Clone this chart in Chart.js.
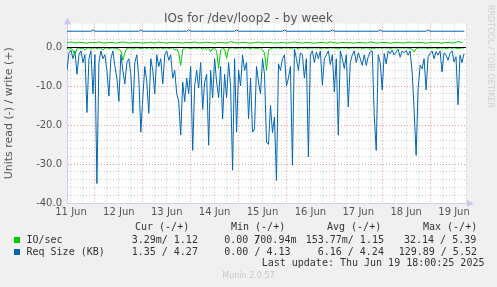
<!DOCTYPE html>
<html>
<head>
<meta charset="utf-8">
<script src="https://cdn.jsdelivr.net/npm/chart.js@4/dist/chart.umd.min.js"></script>
<style>
  html, body { margin: 0; padding: 0; background: #f0f0f0; }
  #wrap { position: relative; width: 497px; height: 287px; overflow: hidden; background: #f0f0f0; }
  canvas { position: absolute; left: 0; top: 0; }
  .t { position: absolute; white-space: pre; font: 10px 'DejaVu Sans Mono', monospace; color: #333; line-height: 12px; }
  .sq { position: absolute; width: 6px; height: 6px; }
  #title { position: absolute; left: 0; width: 497px; top: 11px; text-align: center; font: 12px 'DejaVu Sans', sans-serif; color: #555; line-height: 15px; }
  #rrd { position: absolute; left: 485px; top: 5px; font: 8px 'DejaVu Sans', sans-serif; color: #cfcfcf; writing-mode: vertical-rl; white-space: nowrap; line-height: 10px; }
  #munin { position: absolute; left: 0; width: 497px; top: 271px; text-align: center; font: 8px 'DejaVu Sans', sans-serif; color: #c8c8c8; line-height: 10px; }
</style>
</head>
<body>
<div id="wrap">
  <canvas id="c" width="497" height="287"></canvas>
  <div id="title">IOs for /dev/loop2 - by week</div>
  <div id="rrd">RRDTOOL / TOBI OETIKER</div>
  <div class="t" style="left:135px;top:221px">Cur (-/+)</div>
  <div class="t" style="left:231px;top:221px">Min (-/+)</div>
  <div class="t" style="left:327px;top:221px">Avg (-/+)</div>
  <div class="t" style="left:423px;top:221px">Max (-/+)</div>
  <div class="sq" style="left:14px;top:237px;background:#00cc00"></div>
  <div class="t" style="left:26.5px;top:234px">IO/sec</div>
  <div class="t" style="left:131.7px;top:234px">3.29m/ 1.12</div>
  <div class="t" style="left:224.3px;top:234px">0.00 /</div>
  <div class="t" style="left:254.3px;top:234px">700.94m</div>
  <div class="t" style="left:305.7px;top:234px">153.77m/ 1.15</div>
  <div class="t" style="left:404px;top:234px">32.14 / 5.39</div>
  <div class="sq" style="left:14px;top:249px;background:#0066b3"></div>
  <div class="t" style="left:26.5px;top:246px">Req Size (KB)</div>
  <div class="t" style="left:131.7px;top:246px">1.35 / 4.27</div>
  <div class="t" style="left:224.3px;top:246px">0.00 / 4.13</div>
  <div class="t" style="left:317.7px;top:246px">6.16 / 4.24</div>
  <div class="t" style="left:398.7px;top:246px">129.89 / 5.52</div>
  <div class="t" style="left:261.7px;top:257px">Last update: Thu Jun 19 18:00:25 2025</div>
  <div id="munin">Munin 2.0.57</div>
</div>
<script>
// ---- data (x = hours since Jun 11 10:00) ----
const dayLabels = ['11 Jun','12 Jun','13 Jun','14 Jun','15 Jun','16 Jun','17 Jun','18 Jun','19 Jun'];
const yTickValues = [-40, -30, -20, -10, 0];
const yTickLabels = ['-40.0','-30.0','-20.0','-10.0','0.0'];

// Req Size (KB), read (-), one value per hour
const reqSizeRead = [
 -5.9,-1.5,-0.8,-3,-1,-7,-2,-1,-4,-2,
 -16.8,-3,-1,-12,-2,-35,-4,-1,-3,-2,
 -6,-12.6,-3,-1,-5,-8,-13.9,-2,-6,-9.5,
 -4,-3,-7,-17,-4,-2,-8,-21.8,-13,-5,
 -9,-17,-3,-6,-12,-2,-5,-3,-9.5,-2,
 -1,-3.4,-2,-8,-6,-12,-14,-22.6,-9,-14,
 -8,-12,-5,-26.5,-10,-6,-10.5,-4,-16,-9,
 -7,-25.2,-6,-13,-3,-9,-13,-5,-18.4,-7,
 -13,-4,-10,-31.6,-3,-21.8,-6,-10,-2,-6,
 -4,-18.4,-8,-21.8,-21,-5,-9,-12,-3,-7,
 -24.4,-25,-15,-22,-18,-34.2,-4.3,-6,-3,-2,
 -10,-8,-5,-30.3,-0.5,-3,-6,-1.5,-2,-8,
 -3,-28.2,-2,-1,-4,-1.3,-3,-1,-9.8,-3,
 -2,-1,-4.5,-2,-11.5,-3,-22.6,-1,-3,-5.5,
 -2,-15.4,-4,-2,-1,-4,-1.5,-3,-4.7,-2,
 -4.7,-2.5,-1.3,-1,-17.5,-26.5,-2,-4,-11,-1.7,
 -4.3,-1,-1.7,-0.8,-2,-1.3,-0.6,-2.6,-1,-1.5,
 -0.9,-2.1,-1,-6.4,-16.2,-27.8,-10.7,-4.7,-5.6,-3,
 -11,-2.5,-1.7,-1,-3,-1.2,-2.1,-1,-6.4,-1.5,
 -2.1,-3.4,-1.6,-1,-3.8,-2.5,-14.8,-2.1,-4,-1.7
];
const reqSizeReadStep = 1;

// Req Size (KB), write (+): explicit hours and values
const reqSizeWriteHours = [0,12,13,14,36,37,38,60,61,62,84,85,86,108,109,110,132,133,134,156,157,158,180,181,182,199];
const reqSizeWrite =      [4.05,4.05,4.4,4.05,4.05,4.4,4.05,4.05,4.4,4.05,4.05,4.4,4.05,4.05,4.4,4.05,4.05,4.4,4.05,4.05,4.4,4.05,4.05,4.4,4.05,4.05];

// IO/sec, read (-), one value per hour
const ioRead = [
 -0.3,-0.6,-0.3,-0.9,-2.0,-0.4,-0.2,-0.5,-0.3,-0.8,
 -0.3,-0.2,-0.6,-0.3,-0.2,-0.4,-0.3,-0.2,-0.8,-0.3,
 -0.2,-0.5,-0.3,-0.2,-0.5,-0.3,-0.6,-1.0,-3.4,-1.5,
 -0.4,-0.3,-0.2,-0.6,-0.3,-0.2,-0.3,-0.4,-0.3,-0.2,
 -0.4,-0.2,-0.3,-0.5,-0.2,-0.3,-0.3,-0.2,-0.4,-0.3,
 -0.2,-0.4,-0.3,-0.2,-0.8,-0.5,-1.5,-4.7,-0.6,-0.3,
 -0.2,-0.3,-0.5,-0.3,-0.2,-0.4,-0.2,-0.3,-0.5,-0.3,
 -0.6,-0.3,-1.2,-0.4,-0.3,-1.0,-5.5,-0.8,-0.3,-0.5,
 -2.9,-0.4,-0.3,-0.2,-0.3,-0.4,-0.2,-0.3,-0.2,-0.4,
 -0.2,-0.3,-0.5,-0.2,-0.3,-0.4,-0.3,-0.2,-0.8,-1.5,
 -6.0,-0.8,-0.4,-0.3,-0.2,-0.3,-0.2,-0.4,-0.3,-0.2,
 -0.3,-0.2,-0.4,-0.3,-0.2,-0.3,-0.5,-0.2,-0.3,-0.2,
 -0.3,-0.4,-0.2,-0.3,-0.2,-0.3,-0.2,-0.4,-0.3,-0.2,
 -0.4,-0.3,-0.2,-0.3,-0.2,-0.4,-0.5,-0.3,-0.2,-0.3,
 -0.2,-0.4,-0.3,-0.2,-0.3,-0.2,-0.3,-0.2,-0.4,-0.3,
 -0.2,-0.3,-0.6,-0.3,-0.4,-0.2,-0.3,-0.2,-0.3,-0.2,
 -0.3,-0.2,-0.4,-0.3,-0.2,-0.3,-0.2,-0.3,-0.2,-0.3,
 -0.2,-0.3,-0.4,-0.6,-1.3,-0.4,-0.3,-0.2,-0.3,-0.2,
 -0.3,-0.4,-0.2,-0.3,-0.2,-0.3,-0.4,-0.2,-0.3,-0.2,
 -0.4,-0.3,-0.2,-0.3,-0.2,-0.3,-0.4,-0.3,-0.2,-0.3
];
const ioReadStep = 1;

// IO/sec, write (+), one value per 2 hours
const ioWrite = [
 1.1,1.3,1.0,1.2,1.1,1.0,1.2,1.1,1.3,1.0,
 1.1,1.2,1.0,1.1,1.3,1.1,1.0,1.2,1.1,1.0,
 1.1,1.2,1.0,1.3,1.1,1.0,1.2,1.1,1.1,1.0,
 1.2,1.1,1.3,1.0,1.1,1.2,1.1,1.0,1.2,1.1,
 1.0,1.4,1.1,1.0,1.2,1.1,1.0,1.1,1.3,1.0,
 1.2,1.1,1.0,1.1,1.2,1.0,1.1,1.3,1.1,1.0,
 1.2,1.1,1.0,1.1,1.2,1.0,1.3,1.1,1.0,1.2,
 1.1,1.1,1.0,1.2,1.1,1.0,1.3,1.1,1.0,1.2,
 1.1,1.0,1.1,1.2,1.0,1.1,1.3,1.0,1.2,1.1,
 1.0,1.1,1.2,1.1,1.0,1.2,1.1,1.0,1.4,1.1
];
const ioWriteStep = 2;

// ---- build ----
const byStep = (arr, step) => arr.map((v, i) => ({x: i * step, y: v}));
const byHours = (hrs, arr) => arr.map((v, i) => ({x: hrs[i], y: v}));

const HOURS = 200;          // plot span in hours
const FIRST_NOON = 2;       // 11 Jun 12:00
const FIRST_MIDNIGHT = 14;  // 12 Jun 00:00

const plotDecor = {
  id: 'plotDecor',
  beforeDraw(chart) {
    const {ctx, chartArea: a} = chart;
    ctx.save();
    ctx.fillStyle = '#ffffff';
    ctx.fillRect(a.left, a.top, a.right - a.left, a.bottom - a.top);
    ctx.restore();
  },
  afterDatasetsDraw(chart) {
    const {ctx, chartArea: a, scales} = chart;
    const y0 = Math.round(scales.y.getPixelForValue(0)) + 0.5;
    ctx.save();
    ctx.strokeStyle = '#000000';
    ctx.lineWidth = 1;
    ctx.beginPath();
    ctx.moveTo(a.left, y0);
    ctx.lineTo(a.right, y0);
    ctx.stroke();
    ctx.fillStyle = '#c8c8f0';
    ctx.beginPath();
    ctx.moveTo(a.left + 0.5, a.top - 6);
    ctx.lineTo(a.left - 3, a.top + 1);
    ctx.lineTo(a.left + 4, a.top + 1);
    ctx.closePath();
    ctx.fill();
    ctx.beginPath();
    ctx.moveTo(a.right + 8, a.bottom + 0.5);
    ctx.lineTo(a.right + 1, a.bottom - 3);
    ctx.lineTo(a.right + 1, a.bottom + 4);
    ctx.closePath();
    ctx.fill();
    ctx.restore();
  }
};

const gridHours = [];
for (let h = FIRST_NOON; h <= HOURS; h += 6) gridHours.push(h);

Chart.defaults.font.family = "'DejaVu Sans', sans-serif";

new Chart(document.getElementById('c'), {
  type: 'line',
  data: {
    datasets: [
      { label: 'IO/sec write', data: byStep(ioWrite, ioWriteStep), borderColor: '#00cc00', borderWidth: 1, pointRadius: 0, tension: 0, order: 0 },
      { label: 'IO/sec read', data: byStep(ioRead, ioReadStep), borderColor: '#00cc00', borderWidth: 1, pointRadius: 0, tension: 0, order: 1 },
      { label: 'Req Size write', data: byHours(reqSizeWriteHours, reqSizeWrite), borderColor: '#0066b3', borderWidth: 1, pointRadius: 0, tension: 0, order: 2 },
      { label: 'Req Size read', data: byStep(reqSizeRead, reqSizeReadStep), borderColor: '#0066b3', borderWidth: 1, pointRadius: 0, tension: 0, order: 3 }
    ]
  },
  options: {
    responsive: false,
    animation: false,
    devicePixelRatio: 1,
    layout: { padding: { left: 0, right: 31, top: 23.6, bottom: 64 } },
    plugins: { legend: { display: false }, tooltip: { enabled: false }, title: { display: false } },
    scales: {
      x: {
        type: 'linear', min: 0, max: HOURS,
        afterFit(s) { s.height = 20; },
        afterBuildTicks(s) { s.ticks = gridHours.map(v => ({value: v})); },
        ticks: {
          autoSkip: false, maxRotation: 0, padding: 3,
          color: '#555', font: { size: 10 },
          callback(v) {
            if ((v - FIRST_NOON) % 24 === 0) return dayLabels[(v - FIRST_NOON) / 24] || '';
            return '';
          }
        },
        grid: {
          drawTicks: false,
          color(ctx) {
            const v = ctx.tick ? ctx.tick.value : 0;
            return ((v - FIRST_MIDNIGHT) % 24 === 0) ? 'rgba(225,140,140,0.9)' : 'rgba(200,200,200,0.9)';
          },
          lineWidth: 1
        },
        border: { display: true, color: '#d0d0ee', width: 1, dash: [1, 2] }
      },
      y: {
        type: 'linear', min: -40, max: 6,
        afterFit(s) { s.width = 67; },
        ticks: {
          autoSkip: false, stepSize: 2, padding: 5, color: '#555', font: { size: 10 },
          callback(v) {
            const i = yTickValues.indexOf(Math.round(v * 10) / 10);
            return i >= 0 ? yTickLabels[i] : '';
          }
        },
        grid: {
          drawTicks: false,
          color(ctx) {
            const v = ctx.tick ? Math.round(ctx.tick.value) : 0;
            if (v === 0 || v === 6) return 'rgba(0,0,0,0)';
            return (v % 10 === 0) ? 'rgba(225,140,140,0.9)' : 'rgba(200,200,200,0.9)';
          },
          lineWidth: 1
        },
        border: { display: true, color: '#d0d0ee', width: 1, dash: [1, 2] },
        title: { display: true, text: 'Units read (-) / write (+)', color: '#555', font: { size: 11 }, padding: { top: 3, bottom: 0 } }
      }
    }
  },
  plugins: [plotDecor]
});
</script>
</body>
</html>
